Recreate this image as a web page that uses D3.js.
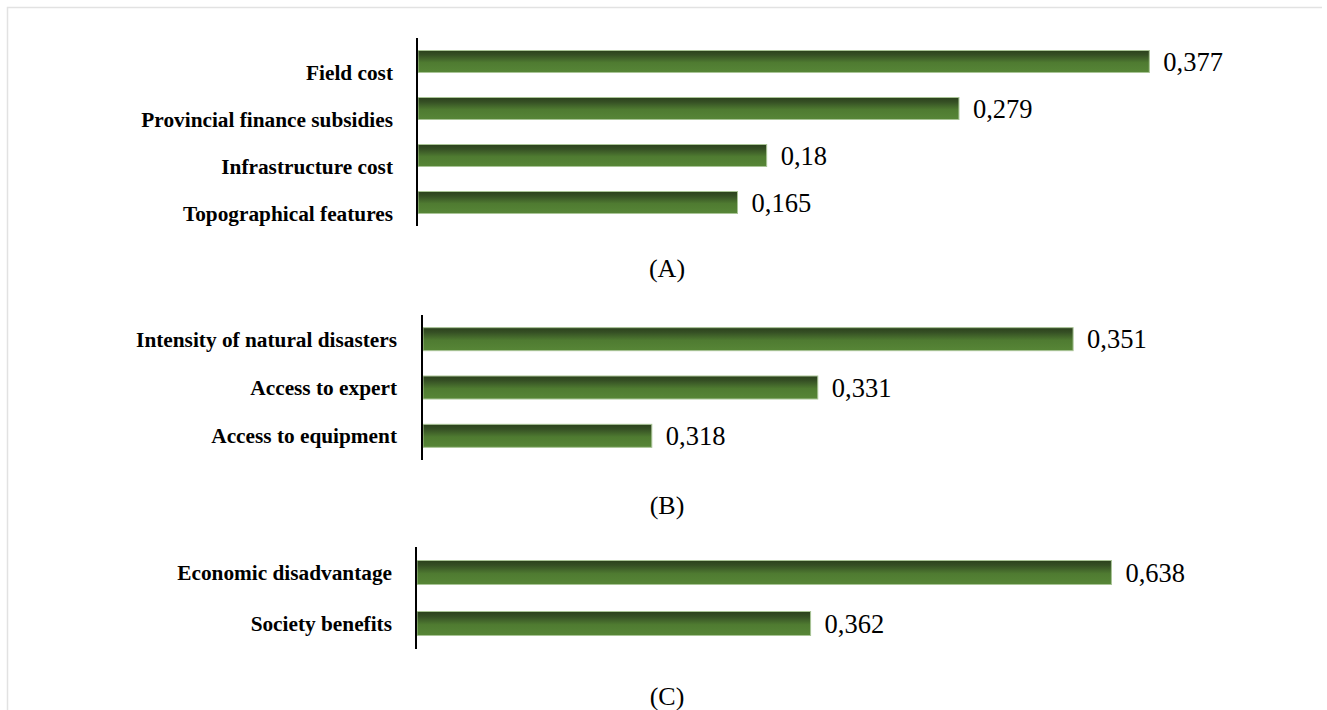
<!DOCTYPE html>
<html>
<head>
<meta charset="utf-8">
<script src="https://cdn.jsdelivr.net/npm/d3@7"></script>
<style>
  body { margin: 0; background: #fff; }
  svg { display: block; }
</style>
</head>
<body>
<svg width="1327" height="710"></svg>
<script>
// panel A
var catsA = ['Field cost', 'Provincial finance subsidies', 'Infrastructure cost', 'Topographical features'];
var valsA = [0.377, 0.279, 0.18, 0.165];
// panel B
var catsB = ['Intensity of natural disasters', 'Access to expert', 'Access to equipment'];
var valsB = [0.351, 0.331, 0.318];
// panel C
var catsC = ['Economic disadvantage', 'Society benefits'];
var valsC = [0.638, 0.362];

var titles = ['(A)', '(B)', '(C)'];

var svg = d3.select('svg');
var defs = svg.append('defs');

var grad = defs.append('linearGradient')
    .attr('id', 'barGrad')
    .attr('x1', 0).attr('y1', 0)
    .attr('x2', 0).attr('y2', 1);
grad.append('stop').attr('offset', '0%').attr('stop-color', '#2b411c');
grad.append('stop').attr('offset', '20%').attr('stop-color', '#354f24');
grad.append('stop').attr('offset', '55%').attr('stop-color', '#4f7b31');
grad.append('stop').attr('offset', '100%').attr('stop-color', '#578637');

// light frame round the figure
svg.append('path')
    .attr('d', 'M7.5,710 L7.5,7.5 L1322,7.5')
    .attr('fill', 'none')
    .attr('stroke', '#e2e2e2')
    .attr('stroke-width', 1.5);

var panels = [
    {cats: catsA, vals: valsA, dom: [0, 0.4], x0: 417, x1: 1194, y0: 38, y1: 226, bh: 22, labDy: 11, labX: 393, title: titles[0], ty: 268},
    {cats: catsB, vals: valsB, dom: [0.3, 0.36], x0: 422, x1: 1188, y0: 315, y1: 460, bh: 23, labDy: 0, labX: 397, title: titles[1], ty: 505},
    {cats: catsC, vals: valsC, dom: [0, 0.7], x0: 416, x1: 1179, y0: 547, y1: 649, bh: 24, labDy: 0, labX: 392, title: titles[2], ty: 696}
];

function fmt(v) {
    return String(v).replace('.', ',');
}

panels.forEach(function(p) {
    var g = svg.append('g');

    var x = d3.scaleLinear()
        .domain(p.dom)
        .range([p.x0, p.x1]);

    var y = d3.scaleBand()
        .domain(p.cats)
        .range([p.y0, p.y1]);

    var rows = p.cats.map(function(c, i) {
        return {cat: c, val: p.vals[i]};
    });

    g.selectAll('rect')
        .data(rows)
        .enter()
        .append('rect')
        .attr('x', x(p.dom[0]) + 1)
        .attr('y', function(d) { return y(d.cat) + y.bandwidth() / 2 - p.bh / 2; })
        .attr('width', function(d) { return x(d.val) - x(p.dom[0]) - 1; })
        .attr('height', p.bh)
        .attr('fill', 'url(#barGrad)')
        .attr('stroke', '#a9c496')
        .attr('stroke-width', 1);

    g.selectAll('text.val')
        .data(rows)
        .enter()
        .append('text')
        .attr('class', 'val')
        .attr('x', function(d) { return x(d.val) + 14; })
        .attr('y', function(d) { return y(d.cat) + y.bandwidth() / 2; })
        .attr('dy', '0.35em')
        .attr('font-family', '"Liberation Serif", "Times New Roman", serif')
        .attr('font-size', 26.5)
        .attr('fill', '#000')
        .text(function(d) { return fmt(d.val); });

    g.selectAll('text.cat')
        .data(rows)
        .enter()
        .append('text')
        .attr('class', 'cat')
        .attr('x', p.labX)
        .attr('y', function(d) { return y(d.cat) + y.bandwidth() / 2 + p.labDy; })
        .attr('dy', '0.35em')
        .attr('text-anchor', 'end')
        .attr('font-family', '"Liberation Serif", "Times New Roman", serif')
        .attr('font-weight', 'bold')
        .attr('font-size', 21.3)
        .attr('fill', '#000')
        .text(function(d) { return d.cat; });

    // category axis line
    g.append('line')
        .attr('x1', x(p.dom[0])).attr('x2', x(p.dom[0]))
        .attr('y1', p.y0).attr('y2', p.y1)
        .attr('stroke', '#000')
        .attr('stroke-width', 2);

    g.append('text')
        .attr('x', 667)
        .attr('y', p.ty)
        .attr('dy', '0.35em')
        .attr('text-anchor', 'middle')
        .attr('font-family', '"Liberation Serif", "Times New Roman", serif')
        .attr('font-size', 26)
        .attr('fill', '#000')
        .text(p.title);
});
</script>
</body>
</html>
